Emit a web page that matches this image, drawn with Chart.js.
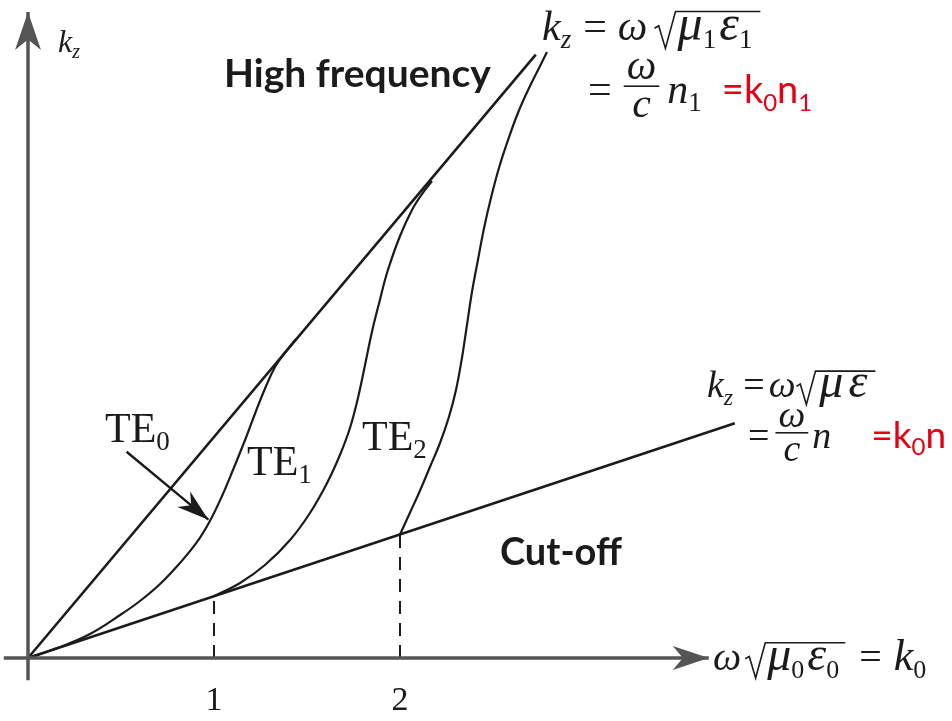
<!DOCTYPE html>
<html>
<head>
<meta charset="utf-8">
<script src="https://cdn.jsdelivr.net/npm/chart.js@4/dist/chart.umd.min.js"></script>
<style>
  html, body { margin: 0; padding: 0; background: #fff; }
  canvas { display: block; }
</style>
</head>
<body>
<canvas id="dispersion" width="952" height="721"></canvas>
<script>
// ------------------------------------------------------------
// Slab waveguide dispersion: k_z versus k0 (TE modes)
// ------------------------------------------------------------

// k0 axis ticks
const tickValues = [1, 2];
const tickLabels = ['1', '2'];

// light lines  k_z = k0 n1  (core)  and  k_z = k0 n  (cladding)
const coreLine = [[0, 0], [2.73, 9.77]];
const cladLine = [[0, 0], [3.8, 3.8]];

// guided TE modes (k0, k_z)
const te0 = [[0, 0], [0.172, 0.178], [0.333, 0.389], [0.495, 0.696], [0.602, 0.923], [0.71, 1.198],
  [0.817, 1.538], [0.909, 1.879], [0.978, 2.219], [1.043, 2.623], [1.102, 3.045], [1.167, 3.53],
  [1.226, 4.0], [1.28, 4.405], [1.328, 4.713], [1.376, 4.923], [1.441, 5.166]];
const te1 = [[1, 1], [1.14, 1.215], [1.274, 1.506], [1.409, 1.911], [1.516, 2.348], [1.608, 2.834],
  [1.677, 3.287], [1.731, 3.725], [1.774, 4.211], [1.812, 4.745], [1.849, 5.279], [1.892, 5.798],
  [1.93, 6.235], [2.0, 6.834], [2.07, 7.287], [2.118, 7.514], [2.172, 7.725]];
const te2 = [[2, 2], [2.054, 2.356], [2.108, 2.713], [2.161, 3.093], [2.215, 3.482], [2.263, 3.903],
  [2.301, 4.34], [2.333, 4.858], [2.36, 5.393], [2.387, 5.927], [2.419, 6.445], [2.452, 6.964],
  [2.489, 7.449], [2.532, 7.935], [2.581, 8.389], [2.634, 8.826], [2.699, 9.263], [2.753, 9.587],
  [2.79, 9.814]];

// cut-off drop lines (TE1 at k0 = 1, TE2 at k0 = 2)
const cutoff1 = [[1, 0], [1, 1]];
const cutoff2 = [[2, 0], [2, 2]];

// axes and the TE0 pointer
const k0Axis = [[-0.13, 0], [3.66, 0]];
const kzAxis = [[0, -0.36], [0, 10.46]];
const te0Pointer = [[0.53, 3.34], [0.97, 2.24]];

const INK = '#1b1b1b';
const AXIS = '#555';
const RED = '#e60012';
const SERIF = '"Liberation Serif", "Times New Roman", serif';
const SANS = 'Lato, "Open Sans", sans-serif';

const pts = a => a.map(([x, y]) => ({ x, y }));

function lineSet(data, width, color, extra) {
  return Object.assign({
    data: pts(data),
    borderColor: color,
    borderWidth: width,
    pointRadius: 0,
    fill: false,
    tension: 0,
  }, extra || {});
}

// rich text: italic/subscript runs, square roots, fractions
function runs(ctx, list, x, y, size, draw) {
  let cx = x;
  list.forEach(r => {
    if ('gap' in r) { cx += r.gap; return; }
    if (r.sqrt) {
      const inner = runs(ctx, r.sqrt, 0, 0, size, false);
      const lead = size * 0.55;
      if (draw) {
        const top = y - size * 0.68;
        ctx.strokeStyle = INK;
        ctx.lineWidth = 1.6;
        ctx.beginPath();
        ctx.moveTo(cx, y - size * 0.28);
        ctx.lineTo(cx + size * 0.1, y - size * 0.34);
        ctx.lineTo(cx + size * 0.26, y + size * 0.2);
        ctx.lineTo(cx + size * 0.5, top);
        ctx.lineTo(cx + lead + inner, top);
        ctx.stroke();
        runs(ctx, r.sqrt, cx + lead, y, size, true);
      }
      cx += lead + inner;
      return;
    }
    if (r.num) {
      const wn = runs(ctx, r.num, 0, 0, size, false);
      const wd = runs(ctx, r.den, 0, 0, size, false);
      const w = Math.max(wn, wd) + 6;
      if (draw) {
        const bar = y - size * 0.4;
        ctx.fillStyle = INK;
        ctx.fillRect(cx, bar - 0.8, w, 1.6);
        runs(ctx, r.num, cx + (w - wn) / 2, bar - size * 0.16, size, true);
        runs(ctx, r.den, cx + (w - wd) / 2, bar + size * 0.74, size, true);
      }
      cx += w;
      return;
    }
    const base = r.sz || size;
    const s = r.sub ? Math.round(base * 0.64) : base;
    ctx.font = (r.i ? 'italic ' : '') + (r.b ? 'bold ' : '') + s + 'px ' + (r.sans ? SANS : SERIF);
    const w = ctx.measureText(r.t).width;
    if (draw) {
      ctx.fillStyle = r.color || INK;
      ctx.fillText(r.t, cx, y + (r.sub ? base * 0.2 : 0));
    }
    cx += w;
  });
  return cx - x;
}

const red = (t, sz, sub) => ({ t, sub, sans: true, sz, color: RED });
const it = (t, sz) => ({ t, i: 1, sz });
const sub = t => ({ t, sub: 1 });

const labels = [
  { x: 58, y: 52, size: 32, runs: [it('k'), { t: 'z', i: 1, sub: 1 }] },
  { x: 224, y: 87, size: 39, runs: [{ t: 'High frequency', b: 1, sans: 1 }] },
  { x: 500, y: 565, size: 38, runs: [{ t: 'Cut-off', b: 1, sans: 1 }] },
  { x: 105, y: 442, size: 42, runs: [{ t: 'TE' }, sub('0')] },
  { x: 247, y: 475, size: 42, runs: [{ t: 'TE' }, sub('1')] },
  { x: 362, y: 450, size: 42, runs: [{ t: 'TE' }, sub('2')] },
  // k_z = ω √(μ1 ε1)
  { x: 542, y: 40, size: 42, runs: [
    it('k'), { t: 'z', i: 1, sub: 1 }, { gap: 12 }, { t: '=' }, { gap: 11 }, it('ω'), { gap: 7 },
    { sqrt: [it('μ', 50), sub('1'), { gap: 3 }, it('ε', 50), sub('1'), { gap: 8 }] }] },
  { x: 588, y: 103, size: 42, runs: [
    { t: '=' }, { gap: 12 }, { num: [it('ω')], den: [it('c')] }, { gap: 8 },
    it('n'), sub('1'), { gap: 20 },
    red('=k', 38), red('0', 38, 1), red('n', 38), red('1', 38, 1)] },
  // k_z = ω √(μ ε)
  { x: 707, y: 397, size: 38, runs: [
    it('k'), { t: 'z', i: 1, sub: 1 }, { gap: 10 }, { t: '=' }, { gap: 4 }, it('ω'), { gap: 1 },
    { sqrt: [{ gap: 2 }, it('μ', 48), { gap: 5 }, it('ε', 48), { gap: 8 }] }] },
  { x: 748, y: 448, size: 38, runs: [
    { t: '=' }, { gap: 6 }, { num: [it('ω')], den: [it('c')] }, { gap: 4 },
    it('n'), { gap: 40 }, red('=k', 37), red('0', 37, 1), red('n', 37)] },
  // k0 axis title
  { x: 713, y: 670, size: 40, runs: [
    it('ω'), { gap: 4 }, { sqrt: [it('μ', 48), sub('0'), { gap: 3 }, it('ε', 48), sub('0'), { gap: 6 }] },
    { gap: 14 }, { t: '=' }, { gap: 12 }, it('k', 44), sub('0')] },
];

// stealth arrowheads on the last segment of flagged datasets
const arrowPlugin = {
  id: 'arrowHeads',
  afterDatasetsDraw(chart) {
    const ctx = chart.ctx;
    chart.data.datasets.forEach((ds, i) => {
      if (!ds.arrowHead) return;
      const els = chart.getDatasetMeta(i).data;
      const a = els[els.length - 2], b = els[els.length - 1];
      const dx = b.x - a.x, dy = b.y - a.y, L = Math.hypot(dx, dy);
      const ux = dx / L, uy = dy / L, px = -uy, py = ux;
      const { len, half, notch } = ds.arrowHead;
      ctx.save();
      ctx.fillStyle = ds.borderColor;
      ctx.beginPath();
      ctx.moveTo(b.x, b.y);
      ctx.lineTo(b.x - ux * len + px * half, b.y - uy * len + py * half);
      ctx.lineTo(b.x - ux * len * notch, b.y - uy * len * notch);
      ctx.lineTo(b.x - ux * len - px * half, b.y - uy * len - py * half);
      ctx.closePath();
      ctx.fill();
      ctx.restore();
    });
  }
};

const textPlugin = {
  id: 'mathText',
  afterDraw(chart) {
    const ctx = chart.ctx;
    const xs = chart.scales.x, ys = chart.scales.y;
    ctx.save();
    ctx.textBaseline = 'alphabetic';
    labels.forEach(l => runs(ctx, l.runs, l.x, l.y, l.size, true));
    // k0 tick labels under the axis
    ctx.font = '34px ' + SERIF;
    ctx.fillStyle = INK;
    ctx.textAlign = 'center';
    tickValues.forEach((v, i) => {
      ctx.fillText(tickLabels[i], xs.getPixelForValue(v), ys.getPixelForValue(0) + 52);
    });
    ctx.restore();
  }
};

new Chart(document.getElementById('dispersion'), {
  type: 'line',
  data: {
    datasets: [
      lineSet(k0Axis, 3.5, AXIS, { arrowHead: { len: 36, half: 12, notch: 0.72 } }),
      lineSet(kzAxis, 3.5, AXIS, { arrowHead: { len: 38, half: 13, notch: 0.72 } }),
      lineSet(cutoff1, 2, INK, { borderDash: [13, 9] }),
      lineSet(cutoff2, 2, INK, { borderDash: [13, 9] }),
      lineSet(coreLine, 2.6, INK),
      lineSet(cladLine, 2.6, INK),
      lineSet(te0, 2.2, INK, { tension: 0.4 }),
      lineSet(te1, 2.2, INK, { tension: 0.4 }),
      lineSet(te2, 2.2, INK, { tension: 0.4 }),
      lineSet(te0Pointer, 2.4, INK, { arrowHead: { len: 32, half: 10, notch: 0.7 } }),
    ]
  },
  options: {
    responsive: false,
    animation: false,
    devicePixelRatio: 1,
    events: [],
    layout: { padding: 0 },
    scales: {
      x: { type: 'linear', display: false, min: -28 / 186, max: 924 / 186 },
      y: { type: 'linear', display: false, min: -63 / 61.75, max: 658 / 61.75 },
    },
    plugins: { legend: { display: false }, tooltip: { enabled: false } }
  },
  plugins: [arrowPlugin, textPlugin]
});
</script>
</body>
</html>
